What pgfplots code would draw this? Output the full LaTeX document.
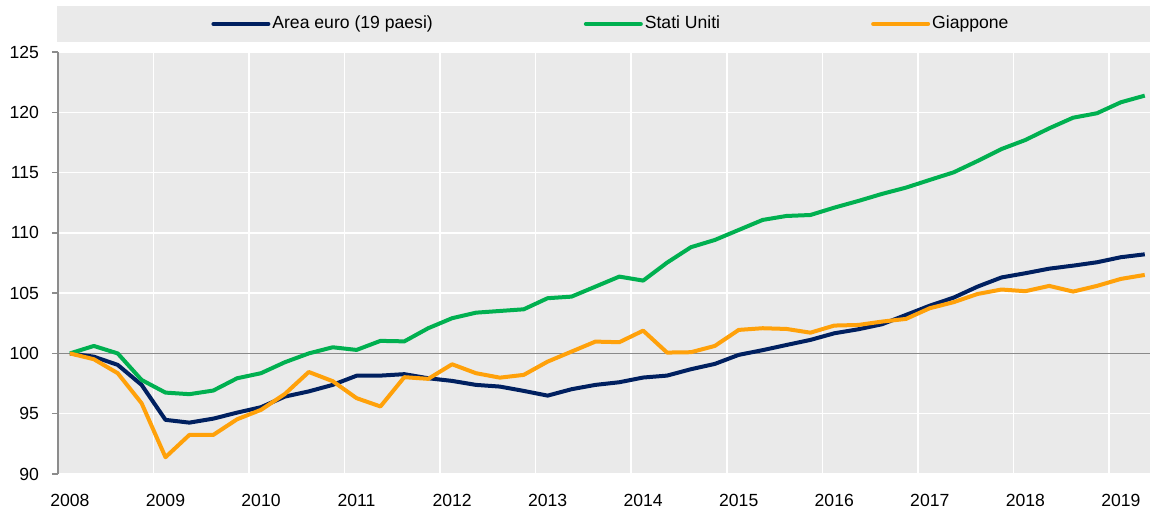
\documentclass[border=0pt]{standalone}
\usepackage{fontspec}
\setmainfont{Liberation Sans}
\usepackage{pgfplots}
\pgfplotsset{compat=1.18}
\definecolor{navy}{HTML}{002060}
\definecolor{usgreen}{HTML}{00B050}
\definecolor{jporange}{HTML}{FFA10A}
\definecolor{bggray}{HTML}{EAEAEA}
\definecolor{spinegray}{HTML}{8C8C8C}
\definecolor{gray100}{HTML}{8A8A8A}

\pgfplotstableread{
i ea us jp
0 100.00 100.00 100.00
1 99.73 100.62 99.52
2 99.05 100.00 98.36
3 97.39 97.80 95.87
4 94.49 96.75 91.39
5 94.26 96.62 93.24
6 94.59 96.92 93.24
7 95.09 97.94 94.54
8 95.54 98.36 95.32
9 96.42 99.27 96.64
10 96.85 100.00 98.46
11 97.39 100.51 97.70
12 98.15 100.29 96.29
13 98.16 101.04 95.60
14 98.28 101.00 98.03
15 97.94 102.09 97.89
16 97.72 102.92 99.10
17 97.39 103.38 98.36
18 97.25 103.52 97.99
19 96.89 103.66 98.22
20 96.50 104.58 99.32
21 97.03 104.71 100.15
22 97.39 105.54 100.98
23 97.61 106.37 100.93
24 98.00 106.04 101.89
25 98.16 107.53 100.07
26 98.69 108.81 100.10
27 99.13 109.41 100.62
28 99.88 110.24 101.95
29 100.27 111.07 102.09
30 100.70 111.40 102.03
31 101.12 111.48 101.72
32 101.67 112.09 102.31
33 102.00 112.64 102.36
34 102.42 113.23 102.64
35 103.19 113.75 102.86
36 103.96 114.39 103.75
37 104.63 115.02 104.25
38 105.54 115.96 104.93
39 106.30 116.95 105.30
40 106.65 117.70 105.16
41 107.03 118.67 105.60
42 107.28 119.55 105.13
43 107.56 119.92 105.60
44 107.98 120.83 106.18
45 108.22 121.38 106.51
}\datatable

\begin{document}
\begin{tikzpicture}[font=\fontsize{8.8}{10.5}\selectfont]
\useasboundingbox (0,0) rectangle (575pt,256pt);
\fill[bggray] (28.5pt,235pt) rectangle (575pt,253pt);
\begin{axis}[
  at={(29pt,19pt)}, anchor=south west,
  width=546pt, height=211pt, scale only axis,
  xmin=-0.5, xmax=45.22, ymin=90, ymax=125,
  axis background/.style={fill=bggray},
  axis x line*=bottom, axis y line*=left,
  x axis line style={draw=none},
  y axis line style={draw=spinegray, line width=0.75pt},
  xtick={0,4,8,12,16,20,24,28,32,36,40,44},
  xticklabels={2008,2009,2010,2011,2012,2013,2014,2015,2016,2017,2018,2019},
  minor xtick={3.5,7.5,11.5,15.5,19.5,23.5,27.5,31.5,35.5,39.5,43.5},
  xmajorgrids=false, xminorgrids=true,
  ytick={90,95,100,105,110,115,120,125}, ymajorgrids=true,
  grid style={white, line width=0.75pt},
  minor grid style={white, line width=0.75pt},
  xtick style={draw=none}, minor tick length=0pt,
  ytick style={draw=spinegray, line width=0.75pt},
  tick align=outside, major tick length=3pt,
  extra y ticks={100}, extra y tick labels={},
  extra y tick style={grid style={gray100, line width=0.75pt}, major tick length=0pt},
  /pgf/number format/assume math mode=true,
  yticklabel style={xshift=-3pt},
  xticklabel style={yshift=-3.5pt},
  legend columns=3,
  legend image code/.code={\draw[#1, line cap=round] (0pt,0pt) -- (27.5pt,0pt);},
  legend style={at={(axis description cs:0.1401,1.0664)}, anchor=west,
    draw=none, fill=none, inner sep=0pt, nodes={inner sep=1pt},
    /tikz/every even column/.append style={column sep=74.5pt}},
]
\addplot[navy, line width=2pt, line join=round] table[x=i, y=ea] {\datatable};
\addlegendentry{Area euro (19 paesi)}
\addplot[usgreen, line width=2pt, line join=round] table[x=i, y=us] {\datatable};
\addlegendentry{Stati Uniti}
\addplot[jporange, line width=2pt, line join=round] table[x=i, y=jp] {\datatable};
\addlegendentry{Giappone}
\end{axis}
\end{tikzpicture}
\end{document}
